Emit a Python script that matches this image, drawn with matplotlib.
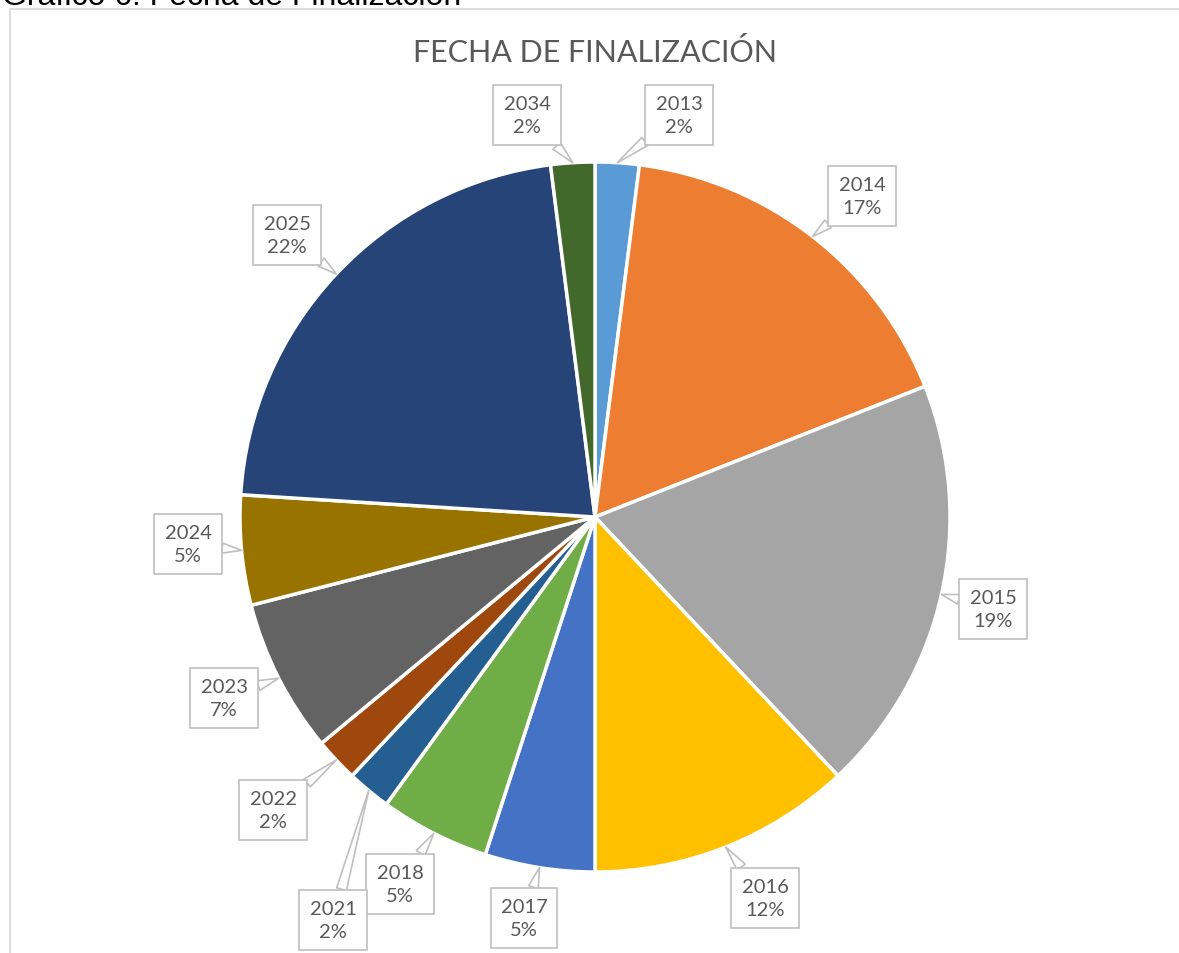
import matplotlib.pyplot as plt
import numpy as np
from matplotlib.patches import Rectangle

# Data
years = ["2013", "2014", "2015", "2016", "2017", "2018",
         "2021", "2022", "2023", "2024", "2025", "2034"]
shares = [2, 17, 19, 12, 5, 5, 2, 2, 7, 5, 22, 2]
colors = ["#5B9BD5", "#ED7D31", "#A5A5A5", "#FFC000", "#4472C4", "#70AD47",
          "#255E91", "#9E480E", "#636363", "#997300", "#264478", "#43682B"]

# label box centres (pixels, top-left origin)
label_pos = [(679, 116), (862, 197), (993, 610), (765, 899), (524, 919), (400, 885),
             (333, 921), (273, 811), (224, 699), (188, 545), (287, 236), (527, 116)]

W, H = 1179, 954
fig = plt.figure(figsize=(W / 100, H / 100), dpi=100)
ax = fig.add_axes([0, 0, 1, 1])
ax.set_xlim(0, W)
ax.set_ylim(0, H)
ax.axis("off")

cx, cy, R = 595, H - 518, 355

# chart area border
ax.add_patch(Rectangle((10, -5), W, H - 5, fill=False, ec="#D9D9D9", lw=1.2))

wedges, _ = ax.pie(shares, colors=colors, startangle=90, counterclock=False,
                   center=(cx, cy), radius=R,
                   wedgeprops=dict(edgecolor="white", linewidth=2.5))
ax.set_xlim(0, W)
ax.set_ylim(0, H)
ax.set_aspect("equal")

font = "Lato"
for w, yr, val, (lx, ly) in zip(wedges, years, shares, label_pos):
    mid = np.deg2rad((w.theta1 + w.theta2) / 2)
    px = cx + R * np.cos(mid)
    py = cy + R * np.sin(mid)
    ax.annotate(f"{yr}\n{val}%", xy=(px, py), xytext=(lx, H - ly),
                ha="center", va="center", fontsize=14.5, color="#595959",
                family=font, linespacing=1.45,
                bbox=dict(boxstyle="square,pad=0.5", fc="white", ec="#BFBFBF", lw=1.2),
                arrowprops=dict(arrowstyle="wedge,tail_width=0.5", fc="white",
                                ec="#BFBFBF", lw=1.2, shrinkA=0, shrinkB=0))

ax.text(cx, H - 52, "FECHA DE FINALIZACIÓN", ha="center", va="center",
        fontsize=22, color="#595959", family=font)

# figure caption, cut off at the top as in the source
ax.text(2, H - 5, "Gráfico 6: Fecha de Finalización", ha="left", va="baseline",
        fontsize=23, color="black", family="Liberation Sans")

plt.savefig("out.png", dpi=100)
